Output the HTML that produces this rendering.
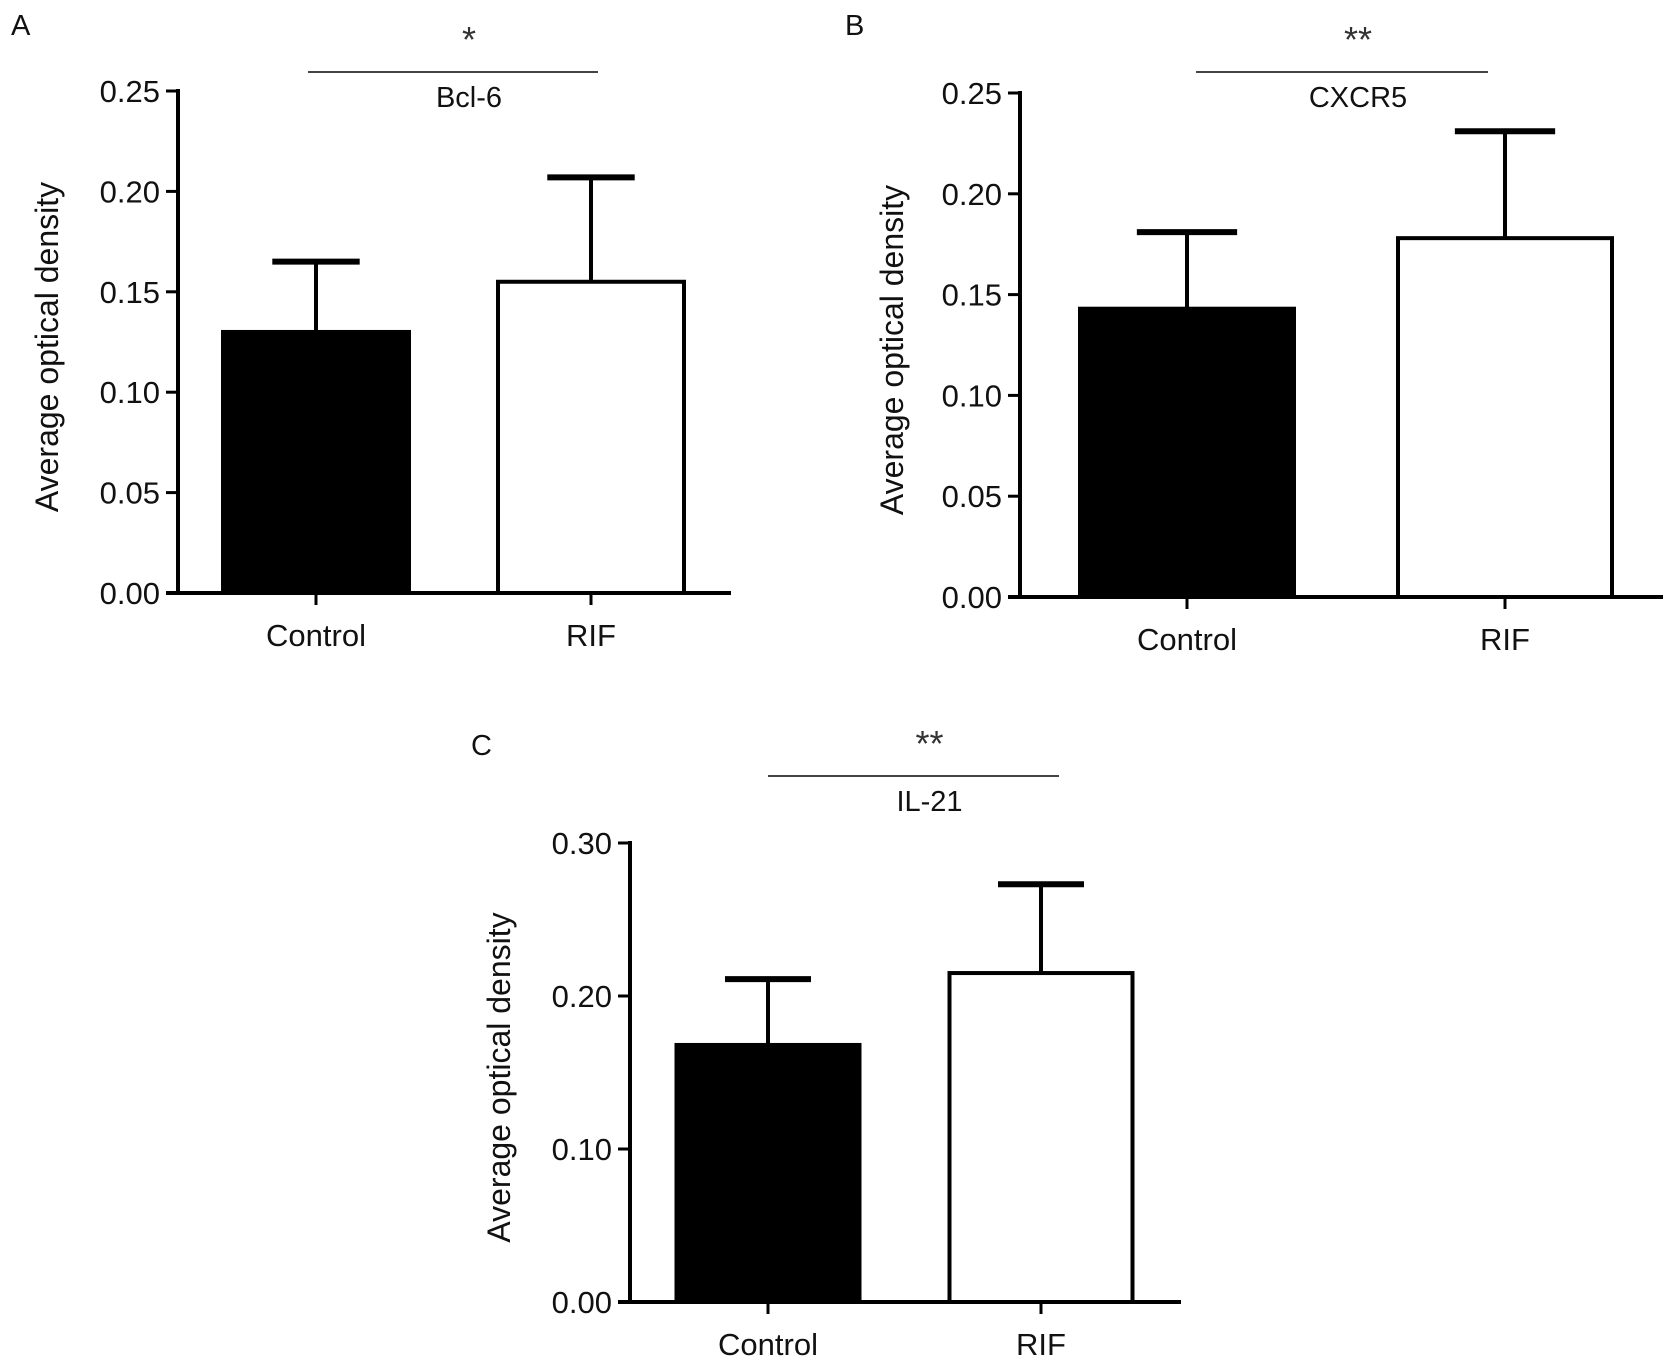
<!DOCTYPE html>
<html><head><meta charset="utf-8"><style>
html,body{margin:0;padding:0;background:#fff;}
svg{display:block;font-family:"Liberation Sans",sans-serif;}
</style></head><body>
<svg id="fig" width="1679" height="1365" viewBox="0 0 1679 1365"></svg>
<script>
const categories = ["Control", "RIF"];
const bcl6Means = [0.130, 0.155];
const bcl6Errs = [0.165, 0.207];
const cxcr5Means = [0.143, 0.178];
const cxcr5Errs = [0.181, 0.231];
const il21Means = [0.168, 0.215];
const il21Errs = [0.211, 0.273];
const ticksAB = ["0.00","0.05","0.10","0.15","0.20","0.25"];
const ticksC = ["0.00","0.10","0.20","0.30"];

const NS = "http://www.w3.org/2000/svg";
const svg = document.getElementById('fig');
function mk(tag, attrs, parent) {
  const e = document.createElementNS(NS, tag);
  for (const k in attrs) e.setAttribute(k, attrs[k]);
  (parent || svg).appendChild(e);
  return e;
}
function txt(s, attrs, parent) { const t = mk('text', attrs, parent); t.textContent = s; return t; }

function panel(p) {
  const g = mk('g', {});
  
  
  const yScale = v => p.y0 - (v / p.max) * (p.y0 - p.yTop);
  p.means.forEach((m, i) => {
    const cx = p.centers[i], w = p.barW;
    const top = yScale(m);
    const ey = yScale(p.errs[i]);
    const er = mk('line', {x1: cx, x2: cx, y1: top, y2: ey, stroke: '#000', 'stroke-width': 4}, g);
    
    
    const cap = mk('line', {x1: cx - w*0.23, x2: cx + w*0.23, y1: ey, y2: ey, stroke: '#000', 'stroke-width': 6}, g);
    
    
    const r = mk('rect', {x: cx - w/2 + 2, y: top, width: w - 4, height: p.y0 - top,
      fill: i === 0 ? '#000' : '#fff', stroke: '#000', 'stroke-width': 4}, g);
    
    
    const tk = mk('line', {x1: cx, x2: cx, y1: p.y0, y2: p.y0 + 12, stroke: '#000', 'stroke-width': 3}, g);
    
    
    const cl = txt(categories[i], {x: cx, y: p.y0 + 53, 'font-size': 31, 'text-anchor': 'middle', fill: '#111'}, g);
    
    
  });
  const ya = mk('line', {x1: p.ax, x2: p.ax, y1: p.yTop - 2, y2: p.y0 + 2, stroke: '#000', 'stroke-width': 4}, g);
  
  
  const xa = mk('line', {x1: p.ax - 12, x2: p.xEnd, y1: p.y0, y2: p.y0, stroke: '#000', 'stroke-width': 4}, g);
  
  
  p.ticks.forEach(t => {
    const y = yScale(parseFloat(t));
    const l = mk('line', {x1: p.ax - 12, x2: p.ax, y1: y, y2: y, stroke: '#000', 'stroke-width': 3}, g);
    
    
    const tl = txt(t, {x: p.ax - 18, y: y + 11, 'font-size': 31, 'text-anchor': 'end', fill: '#111'}, g);
    
    
  });
  const ym = (p.yTop + p.y0) / 2 + 5;
  const yt = txt('Average optical density', {x: p.titleX, y: ym, 'font-size': 32, 'text-anchor': 'middle', fill: '#111',
    transform: 'rotate(-90 ' + p.titleX + ' ' + ym + ')'}, g);
  
  
  const sl = mk('line', {x1: p.sig[0], x2: p.sig[1], y1: p.sigY, y2: p.sigY, stroke: '#444', 'stroke-width': 2}, g);
  
  
  const mid = (p.sig[0] + p.sig[1]) / 2 + 16;
  const st = txt(p.stars, {x: mid, y: p.sigY - 20, 'font-size': 36, 'text-anchor': 'middle', fill: '#333'}, g);
  
  
  const ti = txt(p.title, {x: mid, y: p.sigY + 35, 'font-size': 29, 'text-anchor': 'middle', fill: '#111'}, g);
  
  
  const pl = txt(p.letter, {x: p.letterX, y: p.letterY, 'font-size': 29, fill: '#111'}, g);
  
  
}

panel({name:'panel-a-bcl6', means:bcl6Means, errs:bcl6Errs, ticks:ticksAB, max:0.25,
  ax:178, y0:593, yTop:91, xEnd:731, centers:[316,591], barW:190, titleX:58,
  sig:[308,598], sigY:72, stars:'*', title:'Bcl-6', letter:'A', letterX:11, letterY:35});
panel({name:'panel-b-cxcr5', means:cxcr5Means, errs:cxcr5Errs, ticks:ticksAB, max:0.25,
  ax:1020, y0:597, yTop:93, xEnd:1663, centers:[1187,1505], barW:218, titleX:903,
  sig:[1196,1488], sigY:72, stars:'**', title:'CXCR5', letter:'B', letterX:845, letterY:35});
panel({name:'panel-c-il21', means:il21Means, errs:il21Errs, ticks:ticksC, max:0.30,
  ax:630, y0:1302, yTop:843, xEnd:1181, centers:[768,1041], barW:187, titleX:510,
  sig:[768,1059], sigY:776, stars:'**', title:'IL-21', letter:'C', letterX:471, letterY:755});
</script>
</body></html>
